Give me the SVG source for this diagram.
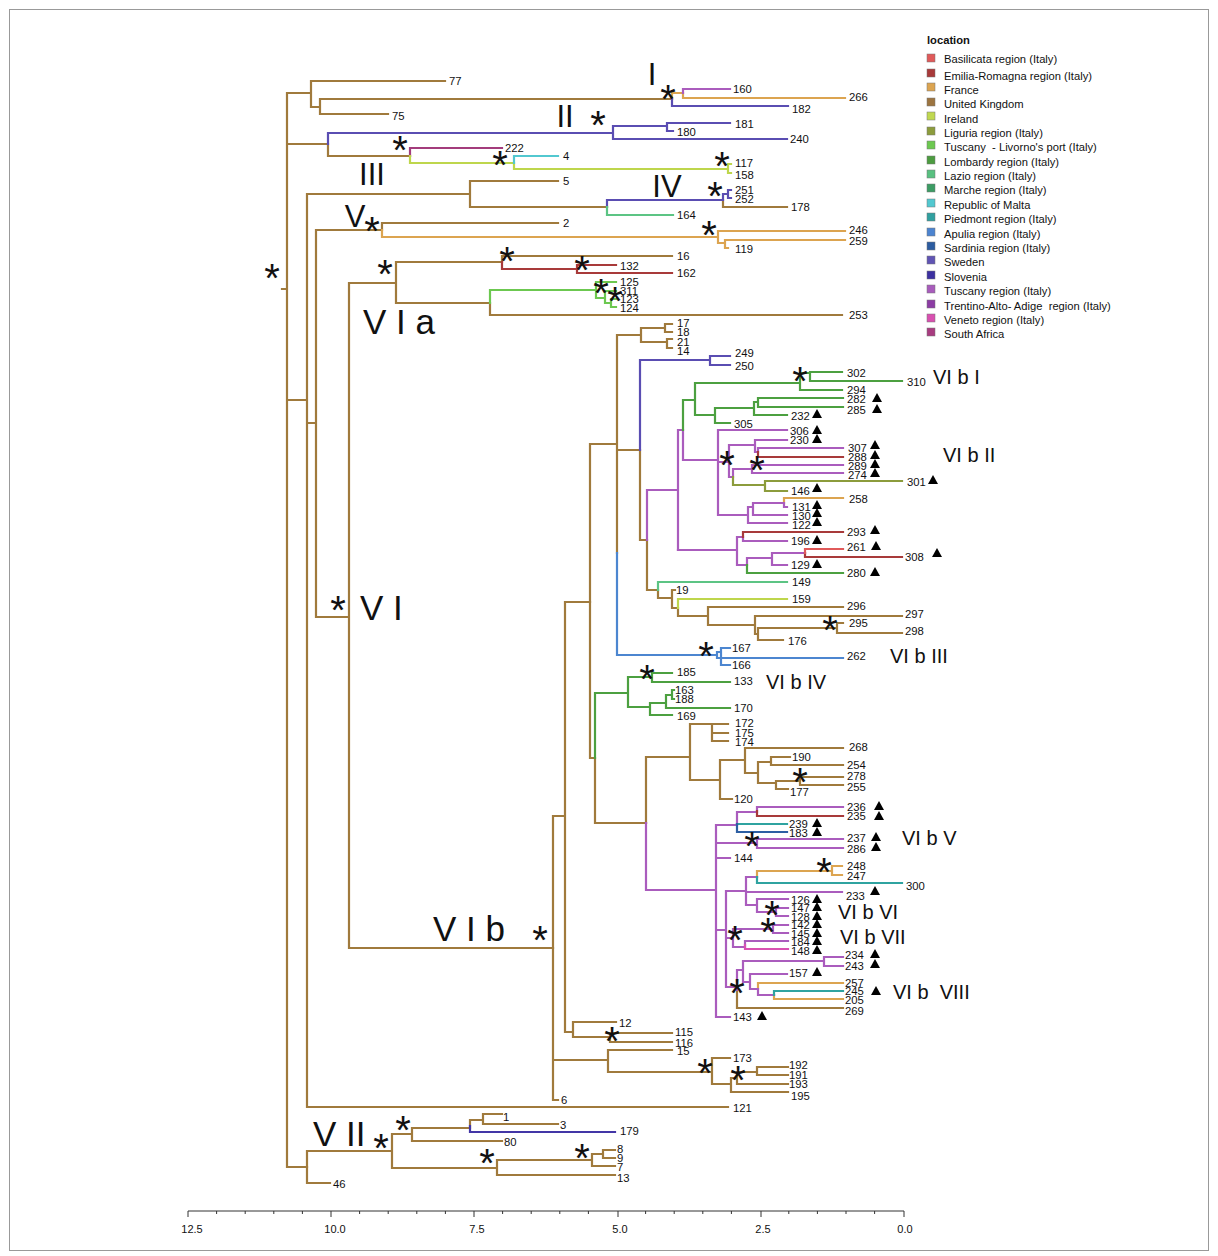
<svg xmlns="http://www.w3.org/2000/svg" xmlns:xlink="http://www.w3.org/1999/xlink" width="1218" height="1256" viewBox="0 0 1218 1256">
<style>
.c path{fill:none;stroke-width:2.2;stroke-linecap:square}
.uk{stroke:#a07a3c}.fr{stroke:#dca450}.tu{stroke:#aa5cbd}.sw{stroke:#5a4db2}.sl{stroke:#4336a6}
.af{stroke:#a33c7c}.ir{stroke:#bed64c}.mt{stroke:#52c8d0}.la{stroke:#5cc484}.er{stroke:#a83a3a}
.ba{stroke:#e05a5a}.tl{stroke:#6cc850}.lo{stroke:#4ca040}.li{stroke:#8c9c3c}.ap{stroke:#4c86d0}
.pi{stroke:#2fa3a0}.sa{stroke:#2d5fa3}.ve{stroke:#d852b2}
text{font-family:"Liberation Sans",Arial,sans-serif;fill:#111}
.t text{font-size:11.3px}
.st{font-family:"DejaVu Sans",sans-serif;font-size:40px;text-anchor:middle}
.big{font-size:35px}
.mid{font-size:31px;text-anchor:middle}
.cl{font-size:20px}
.lg text{font-size:11.2px}
.ax text{font-size:11px;text-anchor:middle}
</style>
<defs>
<path id="tri" d="M-5 4L0 -5L5 4Z" fill="#000"/>
</defs>
<rect x="9.5" y="9.5" width="1199" height="1241" fill="#fff" stroke="#999" stroke-width="1"/>
<g id="connectors" class="c">
<path class="uk" d="M282 289H287M287 93V1167M287 93H311M287 144H328M287 400H307M287 1167H307M307 194V1107M307 194H470M307 423H316M307 1107H728M316 230V617M316 230H382M316 617H349M349 283V948M349 283H396M349 948H553M311 81V107M311 81H445M311 107H320M320 99V114M320 99H672M320 114H388M328 144V156M328 156H410M470 181V207M470 181H558M470 207H607M723 200V207M723 207H787M382 223V230M382 223H558M396 262V303M396 262H502M502 256V262M502 256H672M396 303H490M490 303V315M490 315H842"/>
<path class="uk" d="M307 1151V1183M307 1151H392M307 1183H330M392 1134V1168M392 1134H412M412 1128V1141M412 1128H470M470 1120V1126M470 1120H483M483 1114V1124M483 1114H502M483 1124H558M412 1141H502M392 1168H497M497 1160V1175M497 1160H592M592 1154V1166M592 1154H603M603 1150V1158M603 1150H615M603 1158H615M592 1166H615M497 1175H615"/>
<path class="uk" d="M553 816V1100M553 816H565M553 1060H608M553 1100H558M565 602V1032M565 602H590M565 1032H573M573 1022V1037M573 1022H616M573 1037H610M610 1033V1042M610 1033H672M610 1042H672M608 1050V1072M608 1050H672M608 1072H712M712 1058V1084M712 1058H730M712 1084H731M731 1078V1092M731 1078H737M737 1072V1084M737 1072H757M757 1067V1075M757 1067H788M757 1075H788M737 1084H788M731 1092H788"/>
<path class="uk" d="M590 444V758M590 444H617M590 758H595M595 758V823M595 823H646M617 335V553M617 335H641M641 328V342M641 328H665M665 324V332M665 324H672M665 332H672M641 342H667M667 339V348M667 339H672M667 348H672M617 450H640M640 450V540M640 540H647M647 540V590M647 590H658M658 590V598M658 598H672M672 590V608M672 590H675M672 608H678M678 608V616M678 616H708M708 607V625M708 607H843M708 625H755M755 616V634M755 616H902M755 634H758M758 628V640M758 628H837M837 623V633M837 623H843M837 633H902M758 640H783"/>
<path class="uk" d="M646 757V823M646 757H690M690 724V780M690 724H712M712 724V741M712 724H728M712 733H728M712 741H728M690 780H720M720 760V799M720 799H732M720 760H745M745 748V773M745 748H843M745 773H758M758 762V783M758 762H771M771 757V765M771 757H790M771 765H843M758 783H776M776 781V789M776 781H800M800 777V785M800 777H843M800 785H843M776 789H788M737 990V1008M737 1008H843"/>
<path class="fr" d="M672 93V99M672 93H683M683 93V98M683 98H845M382 230V237M382 237H718M718 231V243M718 231H845M718 243H725M725 240V248M725 240H845M725 248H728M784 498V503M784 498H843M757 871V877M757 871H832M832 866V875M832 866H842M832 875H842M758 983V989M758 983H843M774 995V999M774 999H843"/>
<path class="tu" d="M683 89V93M683 89H730M647 490V540M647 490H678M678 430V550M678 430H683M683 430V460M683 460H718M718 430V515M718 430H787M718 462H729M729 445V477M729 445H755M755 440V452M755 440H787M755 452H758M758 448V452M758 448H843M729 477H733M733 469V477M733 469H752M752 465V473M752 465H843M752 473H843M718 515H748M748 507V523M748 523H787M748 507H753M753 503V515M753 515H787M753 503H784M784 503V507M784 507H787"/>
<path class="tu" d="M678 550H737M737 537V565M737 537H743M743 537V541M743 541H787M737 565H747M747 558V565M747 558H772M772 553V565M772 553H805M772 565H787"/>
<path class="tu" d="M646 823V890M646 890H716M716 825V1017M716 825H737M737 812V824M737 812H757M757 807V811M757 807H843M716 843H757M757 839V848M757 839H843M757 848H843M716 858H730M716 930H726M726 891V987M726 891H746M746 877V905M746 877H757M746 892H842M746 905H757M757 899V912M757 899H788M757 912H776M776 908V916M776 908H788M776 916H788M726 938H733M733 929V947M733 929H773M773 925V933M773 925H788M773 933H788M733 947H745M745 941V945M745 941H788M726 987H737M737 970V990M737 970H743M743 961V982M743 961H824M824 957V966M824 957H843M824 966H843M743 982H750M750 974V989M750 974H787M750 989H758M758 989V995M758 995H774M716 1017H730"/>
<path class="sw" d="M672 99V106M672 106H788M328 133V144M328 133H613M613 126V139M613 126H667M667 123V131M667 123H730M667 131H673M613 139H787M607 200V207M607 200H723M723 194V200M723 194H728M728 190V198M728 190H731M728 198H731M640 360V450M640 360H710M710 356V365M710 356H730M710 365H730"/>
<path class="sl" d="M470 1126V1132M470 1132H615"/>
<path class="af" d="M410 148V156M410 148H502"/>
<path class="ir" d="M410 156V163M410 163H514M514 163V169M514 169H728M728 164V173M728 164H731M728 173H731M678 599V608M678 599H787"/>
<path class="mt" d="M514 156V163M514 156H558"/>
<path class="la" d="M607 207V215M607 215H673M658 582V590M658 582H787"/>
<path class="er" d="M502 262V269M502 269H577M577 265V273M577 265H616M577 273H672M758 452V457M758 457H843M743 532V537M743 532H843M805 553V557M805 557H902M757 811V816M757 816H843"/>
<path class="ba" d="M805 549V553M805 549H843"/>
<path class="tl" d="M490 290V303M490 290H596M596 282V298M596 282H616M596 298H605M605 291V303M605 291H616M605 303H611M611 299V307M611 299H616M611 307H616"/>
<path class="lo" d="M683 400V430M683 400H695M695 383V415M695 383H800M800 373V390M800 373H810M810 372V381M810 372H842M810 381H902M800 390H842M695 415H715M715 408V423M715 408H754M754 402V415M754 402H758M758 398V407M758 398H843M758 407H843M754 415H787M715 423H730M747 565V573M747 573H843M595 693V758M595 693H628M628 677V707M628 677H652M652 673V682M652 673H672M652 682H730M628 707H650M650 703V715M650 703H666M666 695V708M666 695H672M672 690V699M672 690H674M672 699H674M666 708H730M650 715H672"/>
<path class="li" d="M733 477V485M733 485H765M765 481V491M765 481H902M765 491H787"/>
<path class="ap" d="M617 553V655M617 655H717M717 652V658M717 652H721M721 648V665M721 648H730M721 665H730M717 658H843"/>
<path class="pi" d="M737 824H787M757 877V883M757 883H902M774 991V995M774 991H843"/>
<path class="sa" d="M737 824V832M737 832H787"/>
<path class="ve" d="M745 945V949M745 949H788"/>
</g>
<g id="support" class="st">
<text x="272" y="292">*</text><text x="668" y="113">*</text><text x="598" y="139">*</text><text x="400" y="164">*</text>
<text x="500" y="179">*</text><text x="722" y="180">*</text><text x="715" y="210">*</text><text x="372" y="245">*</text>
<text x="709" y="249">*</text><text x="385" y="288">*</text><text x="507" y="275">*</text><text x="582" y="284">*</text>
<text x="601" y="307">*</text><text x="615" y="315">*</text><text x="338" y="624">*</text><text x="540" y="954">*</text>
<text x="800" y="395">*</text><text x="727" y="479">*</text><text x="757" y="484">*</text><text x="830" y="644">*</text>
<text x="706" y="670">*</text><text x="647" y="693">*</text><text x="800" y="796">*</text><text x="752" y="860">*</text>
<text x="824" y="886">*</text><text x="772" y="929">*</text><text x="768" y="946">*</text><text x="735" y="954">*</text>
<text x="737" y="1007">*</text><text x="612" y="1055">*</text><text x="705" y="1087">*</text><text x="738" y="1094">*</text>
<text x="403" y="1144">*</text><text x="381" y="1162">*</text><text x="487" y="1177">*</text><text x="582" y="1172">*</text>
</g>
<g id="clades">
<text class="mid" x="652" y="85">I</text>
<text class="mid" x="565" y="127">II</text>
<text class="mid" x="372" y="185">III</text>
<text class="mid" x="667" y="197">IV</text>
<text class="mid" x="355" y="227">V</text>
<text class="big" x="363" y="334">V I a</text>
<text class="big" x="360" y="620">V I</text>
<text class="big" x="433" y="941">V I b</text>
<text class="big" x="313" y="1146">V II</text>
<text class="cl" x="933" y="384">VI b I</text>
<text class="cl" x="943" y="462">VI b II</text>
<text class="cl" x="890" y="663">VI b III</text>
<text class="cl" x="766" y="689">VI b IV</text>
<text class="cl" x="902" y="845">VI b V</text>
<text class="cl" x="838" y="919">VI b VI</text>
<text class="cl" x="840" y="944">VI b VII</text>
<text class="cl" x="893" y="999" xml:space="preserve">VI b  VIII</text>
</g>
<g id="tips" class="t">
<g id="tip-77"><text x="449" y="85">77</text></g>
<g id="tip-75"><text x="392" y="120">75</text></g>
<g id="tip-160"><text x="733" y="93">160</text></g>
<g id="tip-266"><text x="849" y="101">266</text></g>
<g id="tip-182"><text x="792" y="113">182</text></g>
<g id="tip-181"><text x="735" y="128">181</text></g>
<g id="tip-180"><text x="677" y="136">180</text></g>
<g id="tip-240"><text x="790" y="143">240</text></g>
<g id="tip-222"><text x="505" y="152">222</text></g>
<g id="tip-4"><text x="563" y="160">4</text></g>
<g id="tip-117"><text x="735" y="167">117</text></g>
<g id="tip-158"><text x="735" y="179">158</text></g>
<g id="tip-5"><text x="563" y="185">5</text></g>
<g id="tip-251"><text x="735" y="194">251</text></g>
<g id="tip-252"><text x="735" y="203">252</text></g>
<g id="tip-178"><text x="791" y="211">178</text></g>
<g id="tip-164"><text x="677" y="219">164</text></g>
<g id="tip-2"><text x="563" y="227">2</text></g>
<g id="tip-246"><text x="849" y="234">246</text></g>
<g id="tip-259"><text x="849" y="245">259</text></g>
<g id="tip-119"><text x="735" y="253">119</text></g>
<g id="tip-16"><text x="677" y="260">16</text></g>
<g id="tip-132"><text x="620" y="270">132</text></g>
<g id="tip-162"><text x="677" y="277">162</text></g>
<g id="tip-125"><text x="620" y="286">125</text></g>
<g id="tip-311"><text x="620" y="295">311</text></g>
<g id="tip-123"><text x="620" y="303">123</text></g>
<g id="tip-124"><text x="620" y="312">124</text></g>
<g id="tip-253"><text x="849" y="319">253</text></g>
<g id="tip-17"><text x="677" y="327">17</text></g>
<g id="tip-18"><text x="677" y="336">18</text></g>
<g id="tip-21"><text x="677" y="346">21</text></g>
<g id="tip-14"><text x="677" y="355">14</text></g>
<g id="tip-249"><text x="735" y="357">249</text></g>
<g id="tip-250"><text x="735" y="370">250</text></g>
<g id="tip-302"><text x="847" y="377">302</text></g>
<g id="tip-310"><text x="907" y="386">310</text></g>
<g id="tip-294"><text x="847" y="394">294</text></g>
<g id="tip-282"><text x="847" y="403">282</text><use href="#tri" x="877" y="398"/></g>
<g id="tip-285"><text x="847" y="414">285</text><use href="#tri" x="877" y="409"/></g>
<g id="tip-232"><text x="791" y="420">232</text><use href="#tri" x="817" y="414"/></g>
<g id="tip-305"><text x="734" y="428">305</text></g>
<g id="tip-306"><text x="790" y="435">306</text><use href="#tri" x="817" y="430"/></g>
<g id="tip-230"><text x="790" y="444">230</text><use href="#tri" x="817" y="439"/></g>
<g id="tip-307"><text x="848" y="452">307</text><use href="#tri" x="875" y="445"/></g>
<g id="tip-288"><text x="848" y="461">288</text><use href="#tri" x="875" y="455"/></g>
<g id="tip-289"><text x="848" y="470">289</text><use href="#tri" x="875" y="464"/></g>
<g id="tip-274"><text x="848" y="479">274</text><use href="#tri" x="875" y="473"/></g>
<g id="tip-301"><text x="907" y="486">301</text><use href="#tri" x="933" y="480"/></g>
<g id="tip-146"><text x="791" y="495">146</text><use href="#tri" x="817" y="488"/></g>
<g id="tip-258"><text x="849" y="503">258</text></g>
<g id="tip-131"><text x="792" y="511">131</text><use href="#tri" x="817" y="505"/></g>
<g id="tip-130"><text x="792" y="520">130</text><use href="#tri" x="817" y="513"/></g>
<g id="tip-122"><text x="792" y="529">122</text><use href="#tri" x="817" y="522"/></g>
<g id="tip-293"><text x="847" y="536">293</text><use href="#tri" x="875" y="530"/></g>
<g id="tip-196"><text x="791" y="545">196</text><use href="#tri" x="817" y="540"/></g>
<g id="tip-261"><text x="847" y="551">261</text><use href="#tri" x="876" y="546"/></g>
<g id="tip-308"><text x="905" y="561">308</text><use href="#tri" x="937" y="553"/></g>
<g id="tip-129"><text x="791" y="569">129</text><use href="#tri" x="817" y="564"/></g>
<g id="tip-280"><text x="847" y="577">280</text><use href="#tri" x="875" y="572"/></g>
<g id="tip-149"><text x="792" y="586">149</text></g>
<g id="tip-19"><text x="676" y="594">19</text></g>
<g id="tip-159"><text x="792" y="603">159</text></g>
<g id="tip-296"><text x="847" y="610">296</text></g>
<g id="tip-297"><text x="905" y="618">297</text></g>
<g id="tip-295"><text x="849" y="627">295</text></g>
<g id="tip-298"><text x="905" y="635">298</text></g>
<g id="tip-176"><text x="788" y="645">176</text></g>
<g id="tip-167"><text x="732" y="652">167</text></g>
<g id="tip-262"><text x="847" y="660">262</text></g>
<g id="tip-166"><text x="732" y="669">166</text></g>
<g id="tip-185"><text x="677" y="676">185</text></g>
<g id="tip-133"><text x="734" y="685">133</text></g>
<g id="tip-163"><text x="675" y="694">163</text></g>
<g id="tip-188"><text x="675" y="703">188</text></g>
<g id="tip-170"><text x="734" y="712">170</text></g>
<g id="tip-169"><text x="677" y="720">169</text></g>
<g id="tip-172"><text x="735" y="727">172</text></g>
<g id="tip-175"><text x="735" y="737">175</text></g>
<g id="tip-174"><text x="735" y="746">174</text></g>
<g id="tip-268"><text x="849" y="751">268</text></g>
<g id="tip-190"><text x="792" y="761">190</text></g>
<g id="tip-254"><text x="847" y="769">254</text></g>
<g id="tip-278"><text x="847" y="780">278</text></g>
<g id="tip-255"><text x="847" y="791">255</text></g>
<g id="tip-177"><text x="790" y="796">177</text></g>
<g id="tip-120"><text x="734" y="803">120</text></g>
<g id="tip-236"><text x="847" y="811">236</text><use href="#tri" x="879" y="806"/></g>
<g id="tip-235"><text x="847" y="820">235</text><use href="#tri" x="879" y="816"/></g>
<g id="tip-239"><text x="789" y="828">239</text><use href="#tri" x="817" y="823"/></g>
<g id="tip-183"><text x="789" y="837">183</text><use href="#tri" x="817" y="832"/></g>
<g id="tip-237"><text x="847" y="842">237</text><use href="#tri" x="876" y="837"/></g>
<g id="tip-286"><text x="847" y="853">286</text><use href="#tri" x="876" y="847"/></g>
<g id="tip-144"><text x="734" y="862">144</text></g>
<g id="tip-248"><text x="847" y="870">248</text></g>
<g id="tip-247"><text x="847" y="880">247</text></g>
<g id="tip-300"><text x="906" y="890">300</text></g>
<g id="tip-233"><text x="846" y="900">233</text><use href="#tri" x="875" y="891"/></g>
<g id="tip-126"><text x="791" y="904">126</text><use href="#tri" x="817" y="899"/></g>
<g id="tip-147"><text x="791" y="912">147</text><use href="#tri" x="817" y="907"/></g>
<g id="tip-128"><text x="791" y="921">128</text><use href="#tri" x="817" y="916"/></g>
<g id="tip-142"><text x="791" y="929">142</text><use href="#tri" x="817" y="924"/></g>
<g id="tip-145"><text x="791" y="938">145</text><use href="#tri" x="817" y="933"/></g>
<g id="tip-184"><text x="791" y="946">184</text><use href="#tri" x="817" y="941"/></g>
<g id="tip-148"><text x="791" y="955">148</text><use href="#tri" x="817" y="950"/></g>
<g id="tip-234"><text x="845" y="959">234</text><use href="#tri" x="875" y="954"/></g>
<g id="tip-243"><text x="845" y="970">243</text><use href="#tri" x="875" y="964"/></g>
<g id="tip-157"><text x="789" y="977">157</text><use href="#tri" x="817" y="972"/></g>
<g id="tip-257"><text x="845" y="987">257</text></g>
<g id="tip-245"><text x="845" y="995">245</text><use href="#tri" x="876" y="991"/></g>
<g id="tip-205"><text x="845" y="1004">205</text></g>
<g id="tip-269"><text x="845" y="1015">269</text></g>
<g id="tip-143"><text x="733" y="1021">143</text><use href="#tri" x="762" y="1016"/></g>
<g id="tip-12"><text x="619" y="1027">12</text></g>
<g id="tip-115"><text x="675" y="1036">115</text></g>
<g id="tip-116"><text x="675" y="1047">116</text></g>
<g id="tip-15"><text x="677" y="1055">15</text></g>
<g id="tip-173"><text x="733" y="1062">173</text></g>
<g id="tip-192"><text x="789" y="1069">192</text></g>
<g id="tip-191"><text x="789" y="1079">191</text></g>
<g id="tip-193"><text x="789" y="1088">193</text></g>
<g id="tip-195"><text x="791" y="1100">195</text></g>
<g id="tip-6"><text x="561" y="1104">6</text></g>
<g id="tip-121"><text x="733" y="1112">121</text></g>
<g id="tip-1"><text x="503" y="1121">1</text></g>
<g id="tip-3"><text x="560" y="1129">3</text></g>
<g id="tip-179"><text x="620" y="1135">179</text></g>
<g id="tip-80"><text x="504" y="1146">80</text></g>
<g id="tip-8"><text x="617" y="1153">8</text></g>
<g id="tip-9"><text x="617" y="1162">9</text></g>
<g id="tip-7"><text x="617" y="1171">7</text></g>
<g id="tip-13"><text x="617" y="1182">13</text></g>
<g id="tip-46"><text x="333" y="1188">46</text></g>
</g>
<g id="legend" class="lg">
<text x="927" y="44" font-weight="bold">location</text>
<g stroke="#777" stroke-width="0.5">
<rect x="927" y="54" width="8" height="8" fill="#e05a5a"/>
<rect x="927" y="69" width="8" height="8" fill="#a83a3a"/>
<rect x="927" y="83" width="8" height="8" fill="#dca450"/>
<rect x="927" y="98" width="8" height="8" fill="#9c7440"/>
<rect x="927" y="112" width="8" height="8" fill="#c0d850"/>
<rect x="927" y="127" width="8" height="8" fill="#8c9c3c"/>
<rect x="927" y="141" width="8" height="8" fill="#6cc850"/>
<rect x="927" y="156" width="8" height="8" fill="#4c9c40"/>
<rect x="927" y="170" width="8" height="8" fill="#58c080"/>
<rect x="927" y="184" width="8" height="8" fill="#3c9c64"/>
<rect x="927" y="199" width="8" height="8" fill="#52c8d0"/>
<rect x="927" y="213" width="8" height="8" fill="#30a0a0"/>
<rect x="927" y="228" width="8" height="8" fill="#4c84d0"/>
<rect x="927" y="242" width="8" height="8" fill="#2c5ca0"/>
<rect x="927" y="256" width="8" height="8" fill="#6054b4"/>
<rect x="927" y="271" width="8" height="8" fill="#3c30a0"/>
<rect x="927" y="285" width="8" height="8" fill="#a85cbc"/>
<rect x="927" y="300" width="8" height="8" fill="#8c3ca4"/>
<rect x="927" y="314" width="8" height="8" fill="#d850b0"/>
<rect x="927" y="328" width="8" height="8" fill="#a83c80"/>
</g>
<text x="944" y="63">Basilicata region (Italy)</text>
<text x="944" y="80">Emilia-Romagna region (Italy)</text>
<text x="944" y="94">France</text>
<text x="944" y="108">United Kingdom</text>
<text x="944" y="123">Ireland</text>
<text x="944" y="137">Liguria region (Italy)</text>
<text x="944" y="151" xml:space="preserve">Tuscany  - Livorno's port (Italy)</text>
<text x="944" y="166">Lombardy region (Italy)</text>
<text x="944" y="180">Lazio region (Italy)</text>
<text x="944" y="194">Marche region (Italy)</text>
<text x="944" y="209">Republic of Malta</text>
<text x="944" y="223">Piedmont region (Italy)</text>
<text x="944" y="238">Apulia region (Italy)</text>
<text x="944" y="252">Sardinia region (Italy)</text>
<text x="944" y="266">Sweden</text>
<text x="944" y="281">Slovenia</text>
<text x="944" y="295">Tuscany region (Italy)</text>
<text x="944" y="310" xml:space="preserve">Trentino-Alto- Adige  region (Italy)</text>
<text x="944" y="324">Veneto region (Italy)</text>
<text x="944" y="338">South Africa</text>
</g>
<g id="axis" class="ax">
<path d="M188 1211H904M188 1211V1217M331 1211V1217M474 1211V1217M618 1211V1217M761 1211V1217M904 1211V1217M216.6 1211V1214M245.2 1211V1214M273.8 1211V1214M302.4 1211V1214M359.6 1211V1214M388.2 1211V1214M416.8 1211V1214M445.4 1211V1214M502.6 1211V1214M531.2 1211V1214M559.8 1211V1214M588.4 1211V1214M645.6 1211V1214M674.2 1211V1214M702.8 1211V1214M731.4 1211V1214M788.8 1211V1214M817.4 1211V1214M846 1211V1214M874.6 1211V1214" stroke="#333" stroke-width="1" fill="none"/>
<text x="192" y="1233">12.5</text>
<text x="335" y="1233">10.0</text>
<text x="477" y="1233">7.5</text>
<text x="620" y="1233">5.0</text>
<text x="763" y="1233">2.5</text>
<text x="905" y="1233">0.0</text>
</g>
</svg>
